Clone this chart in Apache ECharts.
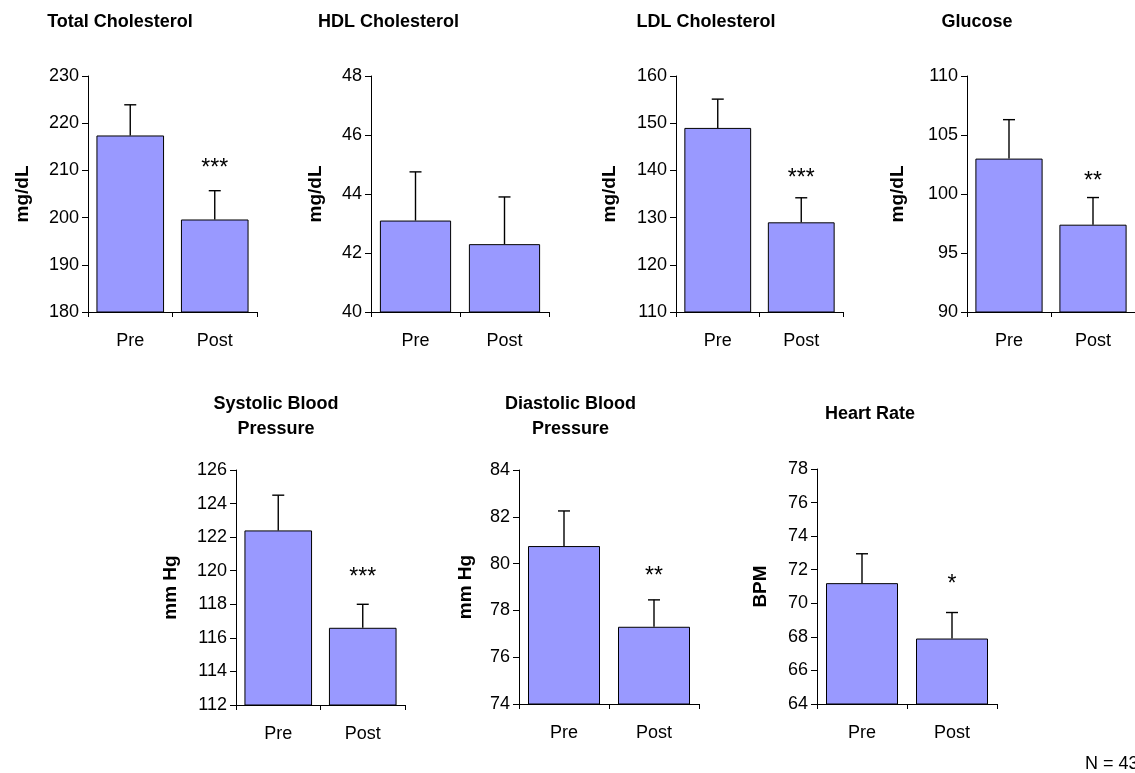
<!DOCTYPE html>
<html>
<head>
<meta charset="utf-8">
<script src="https://cdn.jsdelivr.net/npm/echarts@6/dist/echarts.min.js"></script>
<style>
html,body{margin:0;padding:0;background:#fff;}
#chart{width:1135px;height:773px;}
</style>
</head>
<body>
<div id="chart"></div>
<script>
// ---- data ----
const categories = ['Pre', 'Post'];
const titles = ['Total Cholesterol', 'HDL Cholesterol', 'LDL Cholesterol', 'Glucose',
  'Systolic Blood\nPressure', 'Diastolic Blood\nPressure', 'Heart Rate'];
const units = ['mg/dL', 'mg/dL', 'mg/dL', 'mg/dL', 'mm Hg', 'mm Hg', 'BPM'];
const totalChol = [217.4, 199.6];
const hdlChol = [43.1, 42.3];
const ldlChol = [149.0, 129.0];
const glucose = [103.0, 97.4];
const systolic = [122.4, 116.6];
const diastolic = [80.75, 77.3];
const heartRate = [71.2, 67.9];
const totalCholErr = [6.5, 6.1];
const hdlCholErr = [1.65, 1.6];
const ldlCholErr = [6.1, 5.2];
const glucoseErr = [3.3, 2.3];
const systolicErr = [2.1, 1.4];
const diastolicErr = [1.5, 1.15];
const heartRateErr = [1.75, 1.55];
const axisMin = [180, 40, 110, 90, 112, 74, 64];
const axisMax = [230, 48, 160, 110, 126, 84, 78];
const axisStep = [10, 2, 10, 5, 2, 2, 2];
const sigLabels = ['***', '', '***', '**', '***', '**', '*'];
const sigValue = [211.4, null, 139.4, 101.5, 119.9, 79.65, 71.4];
const footnote = 'N = 43';

const means = [totalChol, hdlChol, ldlChol, glucose, systolic, diastolic, heartRate];
const errs = [totalCholErr, hdlCholErr, ldlCholErr, glucoseErr, systolicErr, diastolicErr, heartRateErr];

// ---- layout ----
const gridBoxes = [
  {left: 88, top: 76, width: 169, height: 236},
  {left: 371, top: 76, width: 178, height: 236},
  {left: 676, top: 76, width: 167, height: 236},
  {left: 967, top: 76, width: 170, height: 236},
  {left: 236, top: 470, width: 169, height: 235},
  {left: 519, top: 470, width: 180, height: 234},
  {left: 817, top: 469, width: 180, height: 235}
];
const nameGaps = [56, 46, 57, 60, 56, 44, 47];
const titlePos = [[120, 10], [388.5, 10], [706, 10], [977, 10], [276, 392], [570.5, 392], [870, 402]];

const FONT = '"Liberation Sans", Arial, Helvetica, sans-serif';
const BAR = '#9999FF';

const option = {
  backgroundColor: '#fff',
  animation: false,
  textStyle: {fontFamily: FONT},
  title: titles.map((t, i) => ({
    text: t,
    left: titlePos[i][0],
    top: titlePos[i][1],
    textAlign: 'center',
    padding: 0,
    textStyle: {fontFamily: FONT, fontSize: 18, fontWeight: 'bold', color: '#000', lineHeight: 25}
  })),
  grid: gridBoxes.map(g => Object.assign({containLabel: false}, g)),
  xAxis: gridBoxes.map((g, i) => ({
    type: 'category',
    gridIndex: i,
    data: categories,
    axisLine: {lineStyle: {color: '#000', width: 1}},
    axisTick: {show: true, length: 5, lineStyle: {color: '#000'}},
    axisLabel: {color: '#000', fontSize: 18, fontFamily: FONT, margin: 20}
  })),
  yAxis: gridBoxes.map((g, i) => ({
    type: 'value',
    gridIndex: i,
    min: axisMin[i],
    max: axisMax[i],
    interval: axisStep[i],
    name: units[i],
    nameLocation: 'middle',
    nameGap: nameGaps[i],
    nameRotate: 90,
    nameTextStyle: {color: '#000', fontSize: 19, fontWeight: 'bold', fontFamily: FONT},
    axisLine: {show: true, lineStyle: {color: '#000', width: 1}},
    axisTick: {show: true, length: 6, lineStyle: {color: '#000'}},
    splitLine: {show: false},
    axisLabel: {color: '#000', fontSize: 18, fontFamily: FONT, margin: 9}
  })),
  series: [],
  graphic: [{
    type: 'text',
    left: 1085,
    top: 755,
    style: {text: footnote, font: '18px ' + FONT, fill: '#000'}
  }]
};

means.forEach((m, i) => {
  option.series.push({
    type: 'bar',
    xAxisIndex: i,
    yAxisIndex: i,
    data: m,
    barCategoryGap: '20%',
    itemStyle: {color: BAR, borderColor: '#000', borderWidth: 1},
    z: 2
  });
  option.series.push({
    type: 'custom',
    xAxisIndex: i,
    yAxisIndex: i,
    z: 3,
    data: m.map((v, j) => [j, v, errs[i][j]]),
    renderItem: function (params, api) {
      const x = api.value(0);
      const v = api.value(1);
      const e = api.value(2);
      const p0 = api.coord([x, v]);
      const p1 = api.coord([x, v + e]);
      const hw = 6;
      return {
        type: 'group',
        children: [
          {type: 'line', shape: {x1: p0[0], y1: p0[1], x2: p1[0], y2: p1[1]},
            style: {stroke: '#000', lineWidth: 1.4}},
          {type: 'line', shape: {x1: p1[0] - hw, y1: p1[1], x2: p1[0] + hw, y2: p1[1]},
            style: {stroke: '#000', lineWidth: 1.4}}
        ]
      };
    }
  });
  if (sigLabels[i]) {
    option.series.push({
      type: 'custom',
      xAxisIndex: i,
      yAxisIndex: i,
      z: 4,
      data: [[1, sigValue[i]]],
      renderItem: function (params, api) {
        const p = api.coord([api.value(0), api.value(1)]);
        return {
          type: 'text',
          x: p[0],
          y: p[1] + 5,
          style: {text: sigLabels[i], font: '23px ' + FONT, fill: '#000',
            align: 'center', verticalAlign: 'middle'}
        };
      }
    });
  }
});

const chart = echarts.init(document.getElementById('chart'), null, {renderer: 'canvas'});
chart.setOption(option);
</script>
</body>
</html>
